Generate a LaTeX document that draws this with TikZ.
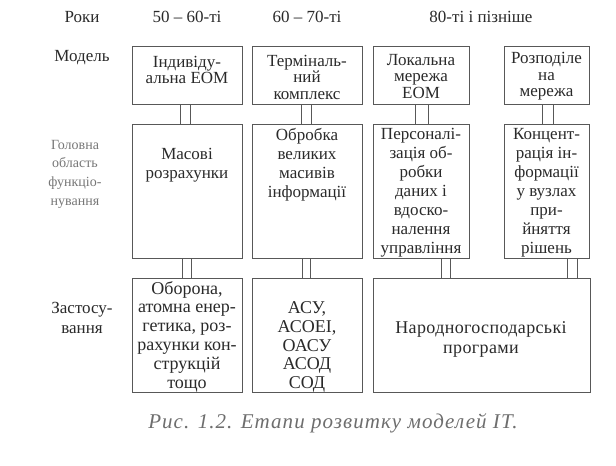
\documentclass[tikz,border=0pt]{standalone}
\usepackage{fontspec}
\setmainfont{Liberation Serif}
\definecolor{boxline}{HTML}{585858}
\definecolor{txt}{HTML}{2A2A2A}
\definecolor{lbl}{HTML}{777777}
\definecolor{cap}{HTML}{6E6E6E}
\begin{document}
\begin{tikzpicture}[x=1pt,y=-1pt,
  box/.style={draw=boxline, line width=1.3pt, inner sep=0pt, anchor=north west},
  conn/.style={draw=boxline, line width=1pt},
  btxt/.style={text=txt, align=center, inner sep=0pt, font=\fontsize{17}{19}\selectfont},
  mtxt/.style={btxt, font=\fontsize{17}{16.5}\selectfont},
  atxt/.style={btxt, font=\fontsize{18}{18.8}\selectfont},
  hdr/.style={text=txt, inner sep=0pt, font=\fontsize{17}{19}\selectfont},
  side/.style={text=txt, align=center, inner sep=0pt, font=\fontsize{17}{20}\selectfont},
  sidelight/.style={text=lbl, align=center, inner sep=0pt, font=\fontsize{14}{18.7}\selectfont},
  captxt/.style={text=cap, inner sep=0pt, font=\fontsize{21}{23}\itshape\addfontfeatures{LetterSpace=5}}]
\useasboundingbox[fill=white] (0,0) rectangle (616,466);

% header row
\node[hdr] (hroky) at (82,17) {Роки};
\node[hdr] (h1) at (187,17) {50 – 60-ті};
\node[hdr] (h2) at (307,17) {60 – 70-ті};
\node[hdr] (h3) at (481,17) {80-ті і пізніше};

% side labels
\node[side] (lmod) at (82,58) {Модель};
\node[sidelight] (lfun) at (75,174) {Головна\\область\\функціо-\\нування};
\node[side] (lapp) at (82,318) {Застосу-\\вання};

% model row boxes
\node[box, minimum width=110pt, minimum height=58pt] (m1) at (132,46) {};
\node[box, minimum width=110pt, minimum height=58pt] (m2) at (252,46) {};
\node[box, minimum width=96pt, minimum height=58pt] (m3) at (373,46) {};
\node[box, minimum width=85pt, minimum height=58pt] (m4) at (504,46) {};

% function row boxes
\node[box, minimum width=110pt, minimum height=134pt] (f1) at (132,124) {};
\node[box, minimum width=110pt, minimum height=134pt] (f2) at (252,124) {};
\node[box, minimum width=96pt, minimum height=134pt] (f3) at (373,124) {};
\node[box, minimum width=85pt, minimum height=134pt] (f4) at (504,124) {};

% application row boxes
\node[box, minimum width=110pt, minimum height=114pt] (a1) at (132,278) {};
\node[box, minimum width=110pt, minimum height=114pt] (a2) at (252,278) {};
\node[box, minimum width=217pt, minimum height=114pt] (a3) at (373,278) {};

% texts
\node[mtxt] (tm1) at (187,70) {Індивіду-\\альна ЕОМ};
\node[mtxt] (tm2) at (307,77) {Терміналь-\\ний\\комплекс};
\node[mtxt] (tm3) at (421,76.5) {Локальна\\мережа\\ЕОМ};
\node[mtxt] (tm4) at (546.5,76.5) {Розподіле\\на\\мережа};

\node[btxt] (tf1) at (187,165) {Масові\\розрахунки};
\node[btxt] (tf2) at (307,164.5) {Обробка\\великих\\масивів\\інформації};
\node[btxt] (tf3) at (421,193) {Персоналі-\\зація об-\\робки\\даних і\\вдоско-\\налення\\управління};
\node[btxt] (tf4) at (546.5,193) {Концент-\\рація ін-\\формації\\у вузлах\\при-\\йняття\\рішень};

\node[atxt] (ta1) at (187,336.5) {Оборона,\\атомна енер-\\гетика, роз-\\рахунки кон-\\струкцій\\тощо};
\node[atxt] (ta2) at (307,347) {АСУ,\\АСОЕІ,\\ОАСУ\\АСОД\\СОД};
\node[btxt, font=\fontsize{18}{20}\selectfont\addfontfeatures{LetterSpace=2}] (ta3) at (481,339) {Народногосподарські\\програми};

% double connectors model -> function
\foreach \b/\l/\r in {1/-7/3, 2/-6/4, 3/-6/7, 4/-4.5/6.5}{
  \draw[conn] ([xshift=\l pt]m\b.south) -- ([xshift=\l pt]m\b.south |- f\b.north);
  \draw[conn] ([xshift=\r pt]m\b.south) -- ([xshift=\r pt]m\b.south |- f\b.north);
}
% function -> application
\draw[conn] ([xshift=-5pt]f1.south) -- ([xshift=-5pt]f1.south |- a1.north);
\draw[conn] ([xshift=4pt]f1.south) -- ([xshift=4pt]f1.south |- a1.north);
\draw[conn] ([xshift=-5pt]f2.south) -- ([xshift=-5pt]f2.south |- a2.north);
\draw[conn] ([xshift=3pt]f2.south) -- ([xshift=3pt]f2.south |- a2.north);
\draw[conn] ([xshift=20pt]f3.south) -- ([xshift=20pt]f3.south |- a3.north);
\draw[conn] ([xshift=29pt]f3.south) -- ([xshift=29pt]f3.south |- a3.north);
\draw[conn] ([xshift=20.5pt]f4.south) -- ([xshift=20.5pt]f4.south |- a3.north);
\draw[conn] ([xshift=30.5pt]f4.south) -- ([xshift=30.5pt]f4.south |- a3.north);

% caption
\node[captxt] (caption) at (333,423) {Рис. 1.2. Етапи розвитку моделей ІТ.};
\end{tikzpicture}
\end{document}
